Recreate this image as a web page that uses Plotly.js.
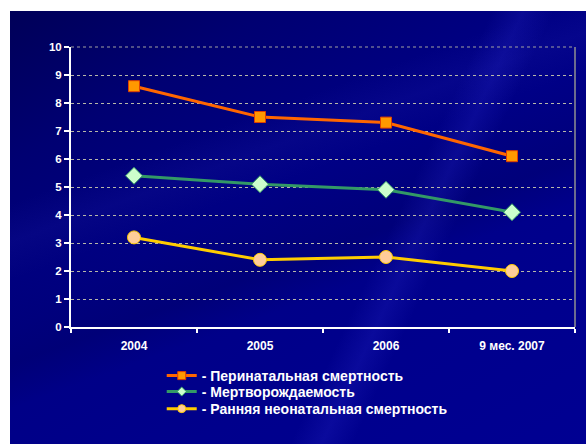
<!DOCTYPE html>
<html><head><meta charset="utf-8">
<script src="https://cdn.plot.ly/plotly-3.0.1.min.js"></script>
<style>
html,body{margin:0;padding:0;background:#fff;}
#wrap{position:relative;width:586px;height:444px;}
#bg{position:absolute;left:10px;top:11px;width:576px;height:433px;
background:
 linear-gradient(115deg, rgba(0,0,0,0) 0%, rgba(0,0,0,0) 62%, rgba(40,40,200,0.25) 66%, rgba(0,0,0,0) 70%, rgba(0,0,0,0) 100%),
 linear-gradient(160deg, rgba(0,0,0,0) 30%, rgba(30,30,170,0.18) 36%, rgba(0,0,0,0) 42%, rgba(0,0,40,0.15) 55%, rgba(0,0,0,0) 62%),
 linear-gradient(150deg, #000058 0%, #000072 20%, #000084 42%, #00008c 70%, #000092 100%);}
#chart{position:absolute;left:0;top:0;width:586px;height:444px;}
</style></head>
<body><div id="wrap"><div id="bg"></div><div id="chart"></div></div>
<script>
const categories = ['2004', '2005', '2006', '9 мес. 2007'];
const perinatal = [8.6, 7.5, 7.3, 6.1];
const stillbirth = [5.4, 5.1, 4.9, 4.1];
const earlyNeonatal = [3.2, 2.4, 2.5, 2.0];
const seriesNames = ['- Перинатальная смертность', '- Мертворождаемость', '- Ранняя неонатальная смертность'];

const fam = 'Arial, "Liberation Sans", sans-serif';
const lineStyles = [
  {color: '#ff6600', width: 3},
  {color: '#339966', width: 3},
  {color: '#ffcc00', width: 3}
];
const markerStyles = [
  {symbol: 'square', size: 11, color: '#ff9900', line: {color: '#e04000', width: 1}},
  {symbol: 'diamond', size: 13, color: '#ccffcc', line: {color: '#339966', width: 1}},
  {symbol: 'circle', size: 13, color: '#ffcc99', line: {color: '#ffcc00', width: 1}}
];
const legendMarkers = [
  {symbol: 'square', size: 8, color: '#ff9900', line: {color: '#e04000', width: 1}},
  {symbol: 'diamond', size: 7, color: '#ccffcc', line: {color: '#339966', width: 1}},
  {symbol: 'circle', size: 8, color: '#ffcc99', line: {color: '#ffcc00', width: 1}}
];
const seriesData = [perinatal, stillbirth, earlyNeonatal];
const legendIds = ['legend', 'legend2', 'legend3'];

const traces = [];
seriesData.forEach((vals, i) => {
  traces.push({x: categories, y: vals, name: seriesNames[i], type: 'scatter', mode: 'lines+markers',
    line: lineStyles[i], marker: markerStyles[i], showlegend: false});
});
seriesData.forEach((vals, i) => {
  traces.push({x: [categories[0]], y: [null], name: seriesNames[i], type: 'scatter', mode: 'lines+markers',
    line: lineStyles[i], marker: legendMarkers[i], showlegend: true, legend: legendIds[i]});
});

const legFont = {family: fam, color: '#ffffff', size: 14, weight: 'bold'};
function leg(y) {
  return {x: 0.18, y: y, xanchor: 'left', yanchor: 'middle', bgcolor: 'rgba(0,0,0,0)', font: legFont};
}

const layout = {
  width: 586, height: 444,
  margin: {l: 71, r: 11, t: 47, b: 117},
  paper_bgcolor: 'rgba(0,0,0,0)', plot_bgcolor: 'rgba(0,0,0,0)',
  font: {family: fam, color: '#ffffff', size: 12, weight: 'bold'},
  showlegend: true,
  legend: leg(-0.175),
  legend2: leg(-0.232),
  legend3: leg(-0.293),
  xaxis: {type: 'category', showgrid: false, zeroline: false,
          showline: true, linecolor: '#ffffff', linewidth: 2,
          ticks: 'outside', tickson: 'boundaries', ticklen: 4, tickwidth: 2, tickcolor: '#ffffff',
          ticklabelstandoff: 7,
          tickfont: {family: fam, color: '#ffffff', size: 12, weight: 'bold'}, range: [-0.5, 3.5]},
  yaxis: {range: [0, 10], dtick: 1, showgrid: true, gridcolor: '#b8b8a8', gridwidth: 1, griddash: '3px,3px',
          zeroline: false, showline: true, linecolor: '#ffffff', linewidth: 2,
          ticks: 'outside', ticklen: 5, tickwidth: 2, tickcolor: '#ffffff',
          tickfont: {family: fam, color: '#ffffff', size: 11.5, weight: 'bold'}},
  shapes: [
    {type: 'line', xref: 'paper', yref: 'paper', x0: 1, x1: 1, y0: 0, y1: 1, line: {color: '#909090', width: 1.5}},
    {type: 'line', xref: 'paper', yref: 'paper', x0: 0, x1: 1, y0: 1, y1: 1, line: {color: '#a0a0a0', width: 1, dash: '3px,3px'}}
  ]
};
Plotly.newPlot('chart', traces, layout, {displayModeBar: false, staticPlot: true});
</script></body></html>
